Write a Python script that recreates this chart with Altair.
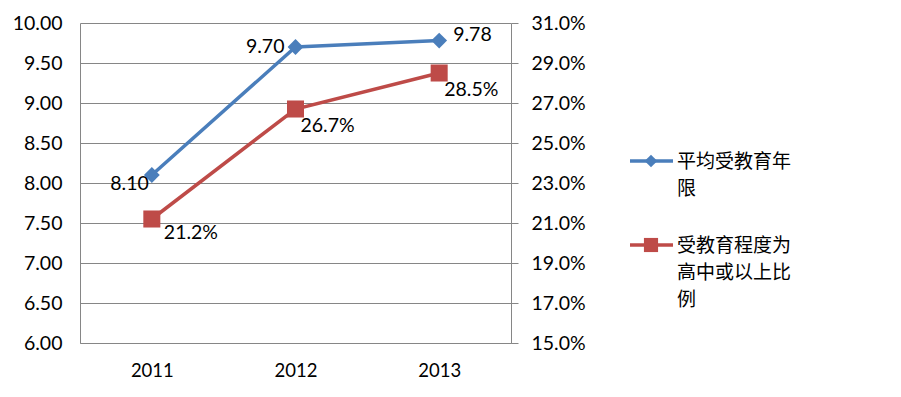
import altair as alt
import pandas as pd

years = ["2011", "2012", "2013"]
avg_years = [8.10, 9.70, 9.78]
high_share = [0.212, 0.267, 0.285]
legend_labels = ["平均受教育年\n限", "受教育程度为\n高中或以上比\n例"]
blue = "#4a7ebb"
red = "#be4b48"
grid_gray = "#868686"
FONT = "Lato"
CJK = "Noto Sans CJK SC"

df = pd.DataFrame({"year": years, "avg": avg_years, "share": high_share})
df["avg_lbl"] = [f"{v:.2f}" for v in avg_years]
df["share_lbl"] = [f"{v*100:.1f}%" for v in high_share]

x_enc = alt.X("year:O", title=None, sort=years,
              scale=alt.Scale(type="point", padding=0.5),
              axis=alt.Axis(labelAngle=0, ticks=False, tickSize=0, grid=False,
                            domainColor=grid_gray, labelPadding=18,
                            labelFont=FONT, labelFontSize=18.5, labelColor="#000"))

y_left = alt.Y("avg:Q", title=None,
               scale=alt.Scale(domain=[6, 10], nice=False, zero=False),
               axis=alt.Axis(values=[6 + 0.5 * i for i in range(9)], format=".2f",
                             orient="left", ticks=False, tickSize=0, grid=True,
                             gridColor=grid_gray, domainColor=grid_gray,
                             labelPadding=18, labelFont=FONT, labelFontSize=19.5,
                             labelColor="#000"))
y_right = alt.Y("share:Q", title=None,
                scale=alt.Scale(domain=[0.15, 0.31], nice=False, zero=False),
                axis=alt.Axis(values=[0.15 + 0.02 * i for i in range(9)], format=".1%",
                              orient="right", ticks=True, tickSize=7, tickColor=grid_gray,
                              grid=False, domainColor=grid_gray, labelPadding=13,
                              labelFont=FONT, labelFontSize=19.5, labelColor="#000"))

base = alt.Chart(df)

blue_line = base.mark_line(color=blue, strokeWidth=3.5).encode(x=x_enc, y=y_left)
blue_pts = base.mark_point(shape="diamond", filled=True, color=blue, size=250, opacity=1).encode(x=x_enc, y=y_left)
tstyle = dict(font=FONT, fontSize=19.5, color="#000")
bt1 = base.transform_filter(alt.datum.year == "2011").mark_text(align="right", baseline="middle", dx=-3, dy=9, **tstyle).encode(x=x_enc, y=y_left, text="avg_lbl:N")
bt2 = base.transform_filter(alt.datum.year == "2012").mark_text(align="right", baseline="middle", dx=-11, dy=0, **tstyle).encode(x=x_enc, y=y_left, text="avg_lbl:N")
bt3 = base.transform_filter(alt.datum.year == "2013").mark_text(align="left", baseline="middle", dx=14, dy=-6, **tstyle).encode(x=x_enc, y=y_left, text="avg_lbl:N")
blue_layer = alt.layer(blue_line, blue_pts, bt1, bt2, bt3)

red_line = base.mark_line(color=red, strokeWidth=3.5).encode(x=x_enc, y=y_right)
red_pts = base.mark_point(shape="square", filled=True, color=red, size=290, opacity=1).encode(x=x_enc, y=y_right)
rt1 = base.transform_filter(alt.datum.year == "2011").mark_text(align="left", baseline="middle", dx=12, dy=14, **tstyle).encode(x=x_enc, y=y_right, text="share_lbl:N")
rt23 = base.transform_filter(alt.datum.year != "2011").mark_text(align="left", baseline="middle", dx=5, dy=17, **tstyle).encode(x=x_enc, y=y_right, text="share_lbl:N")
red_layer = alt.layer(red_line, red_pts, rt1, rt23)

leg_df = pd.DataFrame({"label": legend_labels, "idx": [0, 1]})
leg_layers = []
for i, (color, shape, size, ly) in enumerate([(blue, "diamond", 160, 138), (red, "square", 200, 222)]):
    lb = alt.Chart(leg_df).transform_filter(alt.datum.idx == i)
    leg_layers.append(lb.mark_rule(color=color, strokeWidth=3.5).encode(
        x=alt.value(550), x2=alt.value(593), y=alt.value(ly)))
    leg_layers.append(lb.mark_point(shape=shape, filled=True, color=color, size=size, opacity=1).encode(
        x=alt.value(571), y=alt.value(ly)))
    leg_layers.append(lb.mark_text(align="left", baseline="alphabetic", font=CJK, fontSize=19,
                                   lineBreak="\n", lineHeight=27, color="#000").encode(
        x=alt.value(597), y=alt.value(ly + 7), text="label:N"))

chart = alt.layer(blue_layer, red_layer, *leg_layers).resolve_scale(y="independent").properties(
    width=431, height=320,
    padding={"left": 72, "top": 15, "right": 382, "bottom": 46},
    autosize=alt.AutoSizeParams(type="none"),
    background="white",
).configure_view(stroke=None)

chart.save("out.html", embed_options={"renderer": "svg", "actions": False})
